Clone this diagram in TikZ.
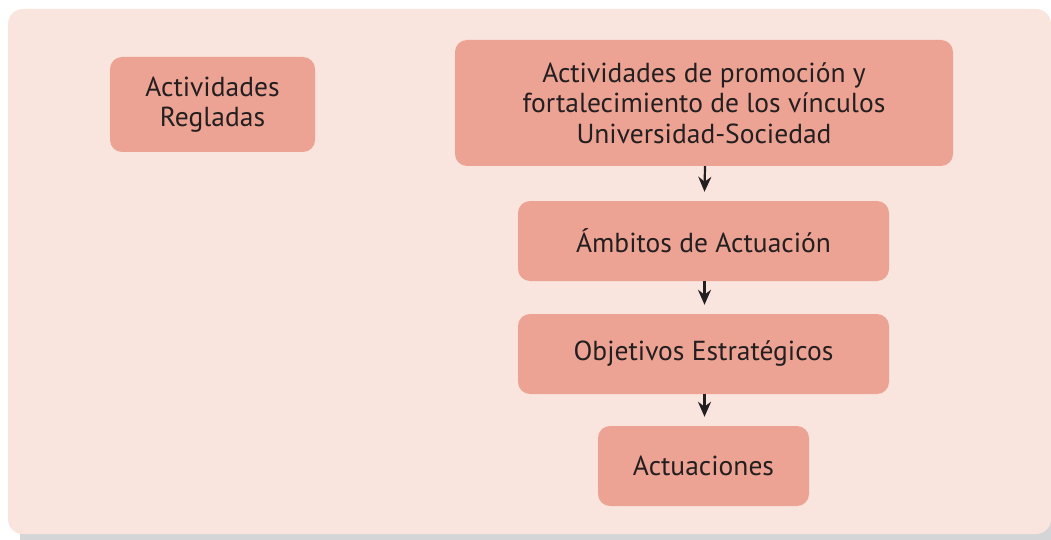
\documentclass[tikz,border=0pt]{standalone}
\usepackage{fontspec}
\setmainfont{PT Sans}
\usetikzlibrary{arrows.meta}
\definecolor{panel}{HTML}{F9E4DE}
\definecolor{boxfill}{HTML}{EDA393}
\definecolor{shadow}{HTML}{D4D5D7}
\definecolor{ink}{HTML}{231F20}
\tikzset{
  box/.style={fill=boxfill, rounded corners=12pt, text=ink, align=center, font=\fontsize{27.5}{30.5}\selectfont, inner sep=0pt},
  conn/.style={draw=ink, line width=2.2pt, -{Stealth[length=15pt,width=13pt]}}
}
\begin{document}
\begin{tikzpicture}[x=1pt,y=-1pt]
\useasboundingbox (0,0) rectangle (1051,540);
\fill[shadow] (20,480) rectangle (1051,540);
\fill[panel, rounded corners=15pt] (8,9) rectangle (1051,534);
\node[box, minimum width=205pt, minimum height=95pt] (regl) at (212.5,104.5) {Actividades\\Regladas};
\node[box, minimum width=498pt, minimum height=126pt] (prom) at (704,103) {Actividades de promoción y\\fortalecimiento de los vínculos\\Universidad-Sociedad};
\node[box, minimum width=371pt, minimum height=80pt] (amb) at (703.5,241) {Ámbitos de Actuación};
\node[box, minimum width=371pt, minimum height=80pt] (obj) at (703.5,354) {Objetivos Estratégicos};
\node[box, minimum width=211pt, minimum height=80pt] (act) at (703.5,466) {Actuaciones};
\draw[conn] ([xshift=1pt]prom.south) -- ([xshift=1pt,yshift=9pt]amb.north);
\draw[conn] ([xshift=1pt]amb.south) -- ([xshift=1pt,yshift=9pt]obj.north);
\draw[conn] ([xshift=1pt]obj.south) -- ([xshift=1pt,yshift=9pt]act.north);
\end{tikzpicture}
\end{document}
